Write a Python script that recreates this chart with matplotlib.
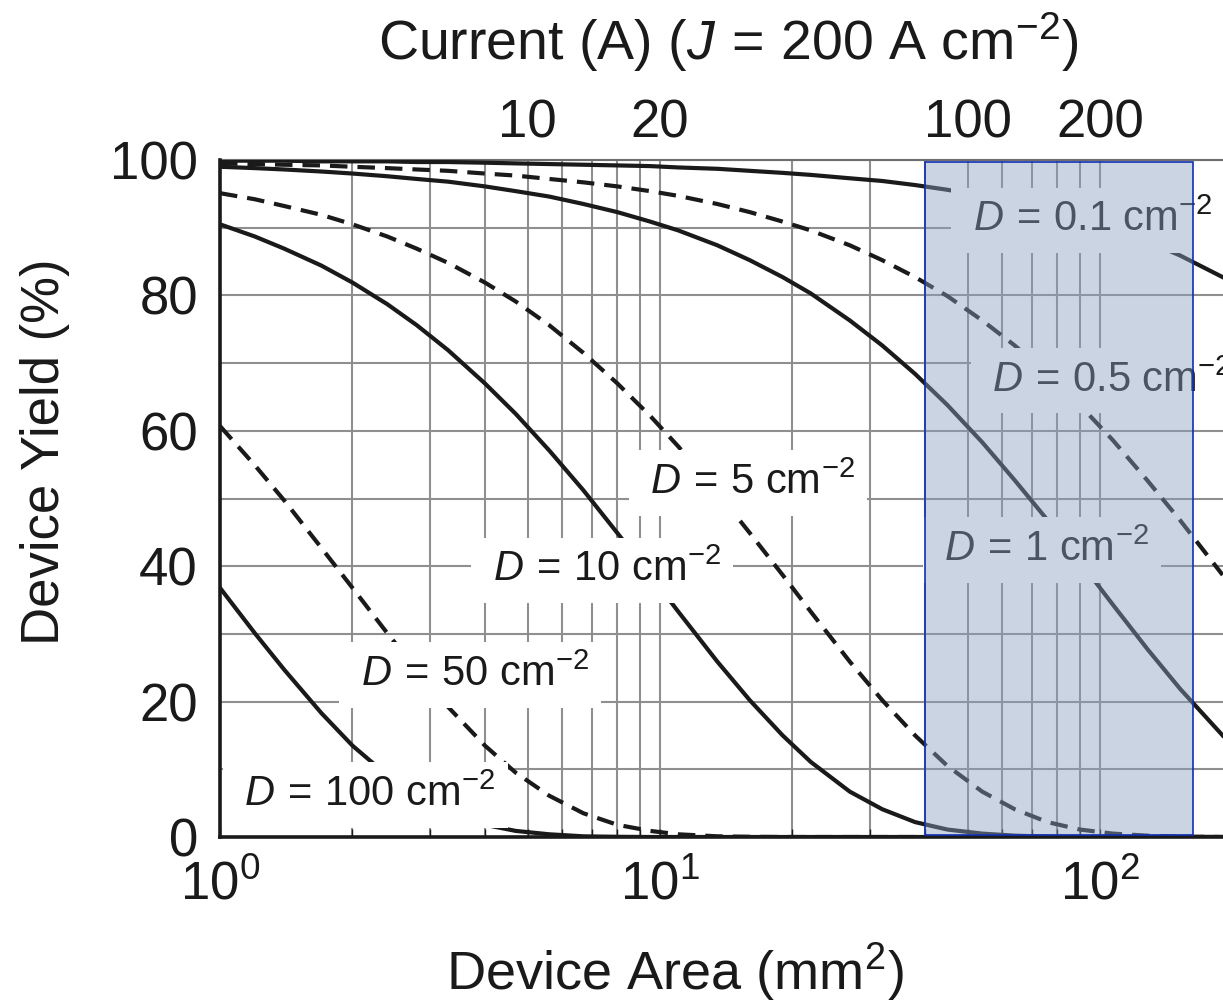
import matplotlib
matplotlib.use("Agg")
import matplotlib.pyplot as plt
from matplotlib.ticker import MultipleLocator, NullFormatter

plt.rcParams['font.family'] = ['Liberation Sans', 'DejaVu Sans']
plt.rcParams['mathtext.fontset'] = 'custom'
plt.rcParams['mathtext.rm'] = 'Liberation Sans'
plt.rcParams['mathtext.it'] = 'Liberation Sans:italic'
plt.rcParams['mathtext.bf'] = 'Liberation Sans:bold'

area = [1, 1.2, 1.4, 1.7, 2, 2.4, 2.8, 3.3, 4, 4.7, 5.6, 6.7, 8, 9.5, 11, 13.5,
        16, 19, 22, 27, 32, 38, 45, 54, 64, 76, 90, 107, 128, 152, 190]

# device yield (%) for each defect density D (cm^-2)
yield_d01 = [99.9, 99.9, 99.9, 99.8, 99.8, 99.8, 99.7, 99.7, 99.6, 99.5, 99.4, 99.3,
             99.2, 99.1, 98.9, 98.7, 98.4, 98.1, 97.8, 97.3, 96.9, 96.3, 95.6, 94.7,
             93.8, 92.7, 91.4, 89.9, 88.0, 85.9, 82.7]
yield_d05 = [99.5, 99.4, 99.3, 99.2, 99.0, 98.8, 98.6, 98.4, 98.0, 97.7, 97.2, 96.7,
             96.1, 95.4, 94.7, 93.5, 92.3, 90.9, 89.6, 87.4, 85.2, 82.7, 79.9, 76.3,
             72.6, 68.4, 63.8, 58.6, 52.7, 46.8, 38.7]
yield_d1 = [99.0, 98.8, 98.6, 98.3, 98.0, 97.6, 97.2, 96.8, 96.1, 95.4, 94.6, 93.5,
            92.3, 90.9, 89.6, 87.4, 85.2, 82.7, 80.3, 76.3, 72.6, 68.4, 63.8, 58.3,
            52.7, 46.8, 40.7, 34.3, 27.8, 21.9, 15.0]
yield_d5 = [95.1, 94.2, 93.2, 91.9, 90.5, 88.7, 86.9, 84.8, 81.9, 79.1, 75.6, 71.5,
            67.0, 62.2, 57.7, 50.9, 44.9, 38.7, 33.3, 25.9, 20.2, 15.0, 10.5, 6.7,
            4.1, 2.2, 1.1, 0.5, 0.2, 0.05, 0.0]
yield_d10 = [90.5, 88.7, 86.9, 84.4, 81.9, 78.7, 75.6, 71.9, 67.0, 62.5, 57.1, 51.2,
             44.9, 38.7, 33.3, 25.9, 20.2, 15.0, 11.1, 6.7, 4.1, 2.2, 1.1, 0.5,
             0.2, 0.05, 0.0, 0.0, 0.0, 0.0, 0.0]
yield_d50 = [60.7, 54.9, 49.7, 42.7, 36.8, 30.1, 24.7, 19.2, 13.5, 9.5, 6.1, 3.5,
             1.8, 0.9, 0.4, 0.1, 0.03, 0.0, 0.0, 0.0, 0.0, 0.0, 0.0, 0.0,
             0.0, 0.0, 0.0, 0.0, 0.0, 0.0, 0.0]
yield_d100 = [36.8, 30.1, 24.7, 18.3, 13.5, 9.1, 6.1, 3.7, 1.8, 0.9, 0.4, 0.1,
              0.03, 0.0, 0.0, 0.0, 0.0, 0.0, 0.0, 0.0, 0.0, 0.0, 0.0, 0.0,
              0.0, 0.0, 0.0, 0.0, 0.0, 0.0, 0.0]

curves = [yield_d01, yield_d05, yield_d1, yield_d5, yield_d10, yield_d50, yield_d100]
defect_names = ['0.1', '0.5', '1', '5', '10', '50', '100']
dashed = [False, True, False, True, False, True, False]

# top axis: current at J = 200 A cm^-2
current_ticks = [10, 20, 100, 200]
amps_per_mm2 = 2.0

# highlighted area range (mm^2)
band = (40, 163)

# where each D label sits (area, yield)
label_pos = [(94, 91.1), (104, 67.4), (73.8, 42.4), (15.85, 52.3),
             (7.4, 39.4), (3.70, 23.9), (2.14, 6.2)]

fig = plt.figure(figsize=(12.23, 10.02), dpi=100)
ax = fig.add_axes([220 / 1223, 165 / 1002, 1 - 220 / 1223, 677 / 1002])

xmax = 10 ** ((1223 - 220) / 440)
ax.set_xscale('log')
ax.set_xlim(1, xmax)
ax.set_ylim(0, 100)

ink = '#1a1a1a'
for ys, dash in zip(curves, dashed):
    ax.plot(area, ys, color=ink, lw=3.0, solid_joinstyle='round',
            linestyle=(0, (4.2, 2.4)) if dash else '-', zorder=3)

for name, (lx, ly) in zip(defect_names, label_pos):
    ax.text(lx, ly, r'$\;D\,=\,%s\ \mathrm{cm}^{-2}\;$' % name, fontsize=30,
            ha='center', va='center', color=ink, zorder=5,
            bbox=dict(boxstyle='square,pad=0.3', fc='white', ec='none'))

ax.axvspan(band[0], band[1], ymin=0.003, ymax=0.997, facecolor='#889fc1',
           alpha=0.44, edgecolor='none', zorder=10)
ax.axvspan(band[0], band[1], ymin=0.003, ymax=0.997, facecolor='none',
           edgecolor='#1230b0', lw=1.2, zorder=11)

ax.set_yticks(range(0, 101, 20))
ax.yaxis.set_minor_locator(MultipleLocator(10))
ax.xaxis.set_minor_formatter(NullFormatter())
ax.set_axisbelow(True)
ax.grid(True, which='both', color='#8f8f8f', lw=1.5)

ax.tick_params(axis='both', which='both', labelsize=38, colors=ink)
ax.tick_params(axis='x', which='both', direction='in', length=6, width=1, pad=17)
ax.tick_params(axis='y', which='both', length=0, pad=16)

for side in ['left', 'bottom']:
    ax.spines[side].set_linewidth(2.6)
    ax.spines[side].set_color(ink)
    ax.spines[side].set_zorder(6)
ax.spines['top'].set_color('#6e6e6e')
ax.spines['top'].set_linewidth(1.5)
ax.spines['right'].set_visible(False)

top = ax.twiny()
top.set_xscale('log')
top.set_xlim(amps_per_mm2 * 1, amps_per_mm2 * xmax)
top.set_xticks(current_ticks)
top.set_xticklabels([str(c) for c in current_ticks])
top.xaxis.set_minor_formatter(NullFormatter())
top.tick_params(axis='x', which='both', length=0, pad=8, labelsize=38, colors=ink)
for s in top.spines.values():
    s.set_visible(False)

fig.text(0.595, 0.940, r'Current (A) ($J\,=\,200$ A cm$^{-2}$)', fontsize=40,
         ha='center', va='baseline', color=ink)
fig.text(0.552, 0.012, r'Device Area (mm$^{2}$)', fontsize=39,
         ha='center', va='baseline', color=ink)
fig.text(0.0368, 0.549, 'Device Yield (%)', fontsize=38, rotation=90,
         ha='center', va='center', color=ink)

fig.savefig('out.png', dpi=100)
